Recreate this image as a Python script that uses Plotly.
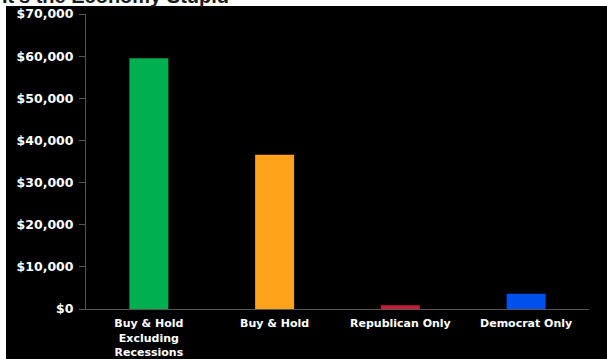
import plotly.graph_objects as go

# Strategy outcomes: growth of an initial investment
strategies = ["Buy & Hold<br>Excluding<br>Recessions", "Buy & Hold", "Republican Only", "Democrat Only"]
ending_values = [59500, 36600, 900, 3600]
bar_colors = ["#00B050", "#FFA31A", "#C41E3A", "#0050EE"]

title_text = "It's the Economy Stupid"

fig = go.Figure(
    go.Bar(
        x=strategies,
        y=ending_values,
        marker=dict(color=bar_colors, line=dict(width=0)),
        width=0.31,
    )
)

W, H = 607, 359
ml, mr, mt, mb = 86, 18, 14, 50
plot_h = H - mt - mb
plot_w = W - ml - mr

def px_to_yp(py):
    # pixel row (from top) -> paper y
    return 1 - (py - mt) / plot_h

def px_to_xp(px):
    return (px - ml) / plot_w

fig.update_layout(
    template="none",
    width=W,
    height=H,
    autosize=False,
    margin=dict(l=ml, r=mr, t=mt, b=mb, pad=0, autoexpand=False),
    paper_bgcolor="black",
    plot_bgcolor="black",
    showlegend=False,
    separators=".,",
    xaxis=dict(
        automargin=False,
        showgrid=False,
        showline=True,
        linecolor="#555555",
        linewidth=1,
        ticks="",
        ticklabelstandoff=4,
        tickfont=dict(family="DejaVu Sans", size=11, color="white", weight="bold"),
    ),
    yaxis=dict(
        automargin=False,
        range=[0, 70000],
        dtick=10000,
        tickprefix="$",
        tickformat=",",
        showgrid=False,
        zeroline=False,
        showline=True,
        linecolor="#555555",
        linewidth=1,
        ticks="outside",
        ticklen=6,
        tickcolor="#555555",
        ticklabelstandoff=3,
        tickfont=dict(family="DejaVu Sans", size=12.5, color="white", weight="bold"),
    ),
    shapes=[
        # white frame strips along the top and left edges
        dict(type="rect", xref="paper", yref="paper",
             x0=px_to_xp(-5), x1=px_to_xp(W + 5), y0=px_to_yp(6), y1=px_to_yp(-5),
             fillcolor="white", line=dict(width=0), layer="above"),
        dict(type="rect", xref="paper", yref="paper",
             x0=px_to_xp(-5), x1=px_to_xp(6), y0=px_to_yp(H + 5), y1=px_to_yp(-5),
             fillcolor="white", line=dict(width=0), layer="above"),
    ],
    annotations=[
        dict(text=title_text, xref="paper", yref="paper",
             x=px_to_xp(231), y=px_to_yp(9), xanchor="right", yanchor="bottom",
             showarrow=False,
             font=dict(family="Liberation Sans", size=20, color="#1a1a1a", weight="bold")),
    ],
)

fig.write_html(
    "out.html",
    post_script="document.body.style.margin='0';document.body.style.overflow='hidden';",
)
